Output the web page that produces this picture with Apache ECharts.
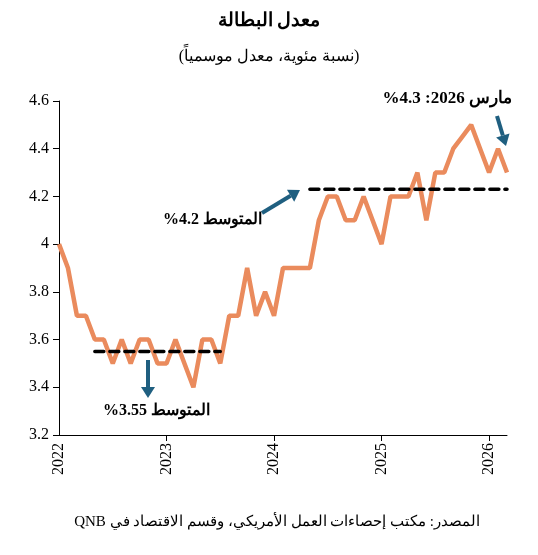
<!DOCTYPE html>
<html><head><meta charset="utf-8">
<script src="https://cdn.jsdelivr.net/npm/echarts@6/dist/echarts.min.js"></script>
<style>html,body{margin:0;padding:0;background:#fff}#c{width:538px;height:555px}</style>
</head><body><div id="c"></div>
<script>
const years = [2022, 2023, 2024, 2025, 2026];
const months = [];
for (const y of years) for (let m = 1; m <= 12; m++) { if (y === 2026 && m > 3) break; months.push(y + '-' + m); }
const unemployment = [4.0,3.9,3.7,3.7,3.6,3.6,3.5,3.6,3.5,3.6,3.6,3.5,
  3.5,3.6,3.5,3.4,3.6,3.6,3.5,3.7,3.7,3.9,3.7,3.8,
  3.7,3.9,3.9,3.9,3.9,4.1,4.2,4.2,4.1,4.1,4.2,4.1,
  4.0,4.2,4.2,4.2,4.3,4.1,4.3,4.3,4.4,4.45,4.5,4.4,
  4.3,4.4,4.3];
const avg1 = {value: 3.55, from: 4, to: 18};
const avg2 = {value: 4.23, from: 28, to: 50};
const yTicks = {min: 3.2, max: 4.6, interval: 0.2};

const serif = 'Liberation Serif';
const arrowColor = '#1f5f80';
function arrow(x1, y1, x2, y2) {
  const a = Math.atan2(y2 - y1, x2 - x1), L = 11, W = 7;
  const bx = x2 - L * Math.cos(a), by = y2 - L * Math.sin(a);
  const px = -Math.sin(a) * W, py = Math.cos(a) * W;
  return [
    {type: 'line', shape: {x1, y1, x2: bx, y2: by}, style: {stroke: arrowColor, lineWidth: 4}},
    {type: 'polygon', shape: {points: [[x2, y2], [bx + px, by + py], [bx - px, by - py]]}, style: {fill: arrowColor}}
  ];
}
const chart = echarts.init(document.getElementById('c'));
chart.setOption({
  animation: false,
  grid: {left: 59, right: 31, top: 101, bottom: 120},
  title: [
    {text: 'معدل البطالة', left: 'center', top: 7, textStyle: {fontFamily: serif, fontSize: 19, fontWeight: 'bold', color: '#000'}},
    {text: '(نسبة مئوية، معدل موسمياً)', left: 'center', top: 44, textStyle: {fontFamily: serif, fontSize: 16, fontWeight: 'normal', color: '#000'}}
  ],
  xAxis: {
    type: 'category', data: months, boundaryGap: false,
    axisLine: {lineStyle: {color: '#000', width: 1}},
    axisTick: {inside: false, length: 6, lineStyle: {color: '#000'}, interval: (i) => i % 12 === 0 && i > 0},
    axisLabel: {interval: (i) => i % 12 === 0, rotate: 90, formatter: (v) => v.split('-')[0], fontFamily: serif, fontSize: 16, color: '#000', margin: 8}
  },
  yAxis: {
    type: 'value', min: yTicks.min, max: yTicks.max, interval: yTicks.interval,
    axisLine: {show: true, lineStyle: {color: '#000'}},
    axisTick: {show: true, length: 6, lineStyle: {color: '#000'}},
    splitLine: {show: false},
    axisLabel: {fontFamily: serif, fontSize: 16, color: '#000', margin: 10, formatter: (v) => String(Math.round(v * 10) / 10)}
  },
  series: [
    {type: 'line', data: unemployment, symbol: 'none', lineStyle: {color: '#EA8B5D', width: 4.5}, z: 3},
    {type: 'line', data: months.map((m, i) => i >= avg1.from && i <= avg1.to ? avg1.value : null), symbol: 'none', lineStyle: {color: '#000', width: 3.5, type: [9, 6], cap: 'round'}, z: 4},
    {type: 'line', data: months.map((m, i) => i >= avg2.from && i <= avg2.to ? avg2.value : null), symbol: 'none', lineStyle: {color: '#000', width: 3.5, type: [9, 6], cap: 'round'}, z: 4}
  ],
  graphic: [
    ...arrow(262, 213, 300, 190),
    ...arrow(148, 360, 148, 398),
    ...arrow(497, 116, 506, 146),
    {type: 'text', style: {text: '%4.2 المتوسط', x: 262, y: 220, align: 'right', verticalAlign: 'middle', font: 'bold 16px "Liberation Serif"', fill: '#000'}},
    {type: 'text', style: {text: '%3.55 المتوسط', x: 210, y: 411, align: 'right', verticalAlign: 'middle', font: 'bold 16px "Liberation Serif"', fill: '#000'}},
    {type: 'text', style: {text: '%4.3 :2026 مارس', x: 512, y: 99, align: 'right', verticalAlign: 'middle', font: 'bold 17px "Liberation Serif"', fill: '#000'}},
    {type: 'text', style: {text: 'QNB المصدر: مكتب إحصاءات العمل الأمريكي، وقسم الاقتصاد في', x: 480, y: 522, align: 'right', verticalAlign: 'middle', font: '15px "Liberation Serif"', fill: '#000'}}
  ]
});
</script></body></html>
